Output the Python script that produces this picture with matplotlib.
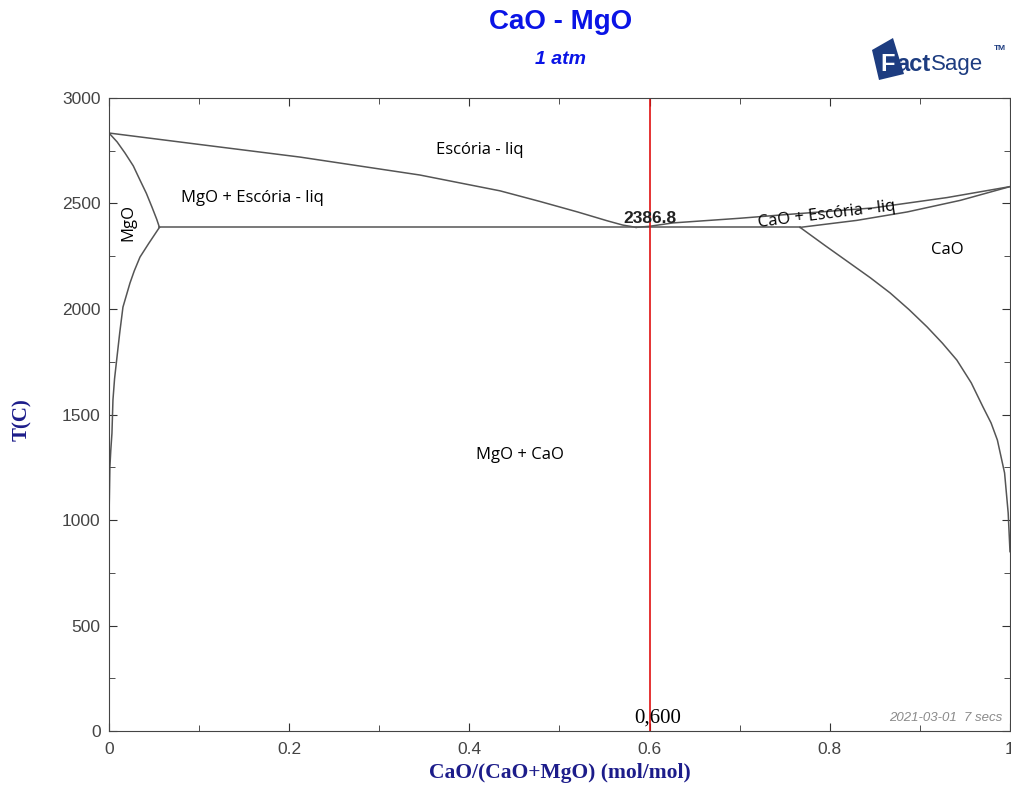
import matplotlib.pyplot as plt
import numpy as np
from matplotlib.ticker import MultipleLocator
from matplotlib.patches import Polygon

# phase boundary data
eut_T = 2386.8

liq_mgo_x = [0.0, 0.1, 0.212, 0.345, 0.434, 0.478, 0.52, 0.553, 0.57, 0.585]
liq_mgo_T = [2834, 2780, 2720, 2635, 2560, 2510, 2460, 2418, 2398, eut_T]

sol_mgo_x = [0.0, 0.009, 0.0178, 0.027, 0.0344, 0.0415, 0.0477, 0.053, 0.056]
sol_mgo_T = [2834, 2792, 2739, 2678, 2611, 2548, 2483, 2425, eut_T]

solv_mgo_x = [0.056, 0.044, 0.0344, 0.028, 0.0233, 0.0155, 0.012, 0.0089, 0.0062, 0.0044,
              0.0033, 0.002, 0.001, 0.0]
solv_mgo_T = [eut_T, 2310, 2246, 2180, 2123, 2009, 1890, 1773, 1670, 1569,
              1412, 1330, 1251, 1000]

liq_cao_x = [0.585, 0.6, 0.626, 0.7, 0.75, 0.848, 0.93, 1.0]
liq_cao_T = [eut_T, 2392, 2408, 2430, 2447, 2479, 2528, 2580]

sol_cao_x = [0.767, 0.83, 0.886, 0.945, 1.0]
sol_cao_T = [eut_T, 2420, 2460, 2515, 2580]

solv_cao_x = [0.767, 0.795, 0.822, 0.845, 0.867, 0.888, 0.908, 0.925, 0.941, 0.957,
              0.970, 0.979, 0.986, 0.994, 0.998, 1.0]
solv_cao_T = [eut_T, 2300, 2218, 2148, 2076, 1997, 1915, 1838, 1758, 1650,
              1536, 1460, 1379, 1223, 1033, 850]

eut_line_x = [0.056, 0.767]
x_cut = 0.6

line_c = '#555555'
blue = '#0a14e6'
navy = '#1c1c8a'
body_font = ['Open Sans', 'DejaVu Sans']

fig = plt.figure(figsize=(10.11, 7.89), dpi=100)
ax = fig.add_axes([0.1078, 0.0735, 0.8912, 0.8023])

for xs, ts in [(liq_mgo_x, liq_mgo_T), (sol_mgo_x, sol_mgo_T), (solv_mgo_x, solv_mgo_T),
               (liq_cao_x, liq_cao_T), (sol_cao_x, sol_cao_T), (solv_cao_x, solv_cao_T)]:
    ax.plot(xs, ts, color=line_c, lw=1.1)
ax.plot(eut_line_x, [eut_T, eut_T], color=line_c, lw=1.1)

ax.axvline(x_cut, color='#e01010', lw=1.2)

ax.set_xlim(0, 1)
ax.set_ylim(0, 3000)
ax.xaxis.set_major_locator(MultipleLocator(0.2))
ax.xaxis.set_minor_locator(MultipleLocator(0.1))
ax.yaxis.set_major_locator(MultipleLocator(500))
ax.yaxis.set_minor_locator(MultipleLocator(250))
ax.set_xticks([0, 0.2, 0.4, 0.6, 0.8, 1.0], ['0', '0.2', '0.4', '0.6', '0.8', '1'])
ax.tick_params(which='both', direction='in', top=True, right=True,
               labelsize=12.5, labelcolor='#444444', color='#333333')
ax.tick_params(which='major', length=6)
ax.tick_params(which='minor', length=4)
ax.tick_params(axis='x', pad=8)
ax.tick_params(axis='y', pad=6)
for lab in ax.get_xticklabels() + ax.get_yticklabels():
    lab.set_family('Liberation Sans')
for s in ax.spines.values():
    s.set_color('#444444')

ax.set_xlabel('CaO/(CaO+MgO) (mol/mol)', family='Liberation Serif', fontweight='bold',
              fontsize=15.5, color=navy, labelpad=4)
fig.text(0.022, 0.468, 'T(C)', family='Liberation Serif', fontweight='bold',
         fontsize=15, color=navy, rotation=90, ha='center', va='center')

# region labels
ax.text(0.412, 2754, 'Escória - liq', fontsize=12, family=body_font, ha='center', va='center')
ax.text(0.159, 2526, 'MgO + Escória - liq', fontsize=12, family=body_font, ha='center', va='center')
ax.text(0.021, 2412, 'MgO', fontsize=12, family=body_font, ha='center', va='center', rotation=90)
ax.text(0.797, 2445, 'CaO + Escória - liq', fontsize=12, family=body_font, ha='center',
        va='center', rotation=7)
ax.text(0.93, 2280, 'CaO', fontsize=12, family=body_font, ha='center', va='center')
ax.text(0.456, 1308, 'MgO + CaO', fontsize=12, family=body_font, ha='center', va='center')
ax.text(0.6, 2431, '2386.8', fontsize=12.5, fontweight='bold', family='Liberation Sans',
        color='#222222', ha='center', va='center')
ax.text(0.609, 60, '0,600', fontsize=15, family='Liberation Serif', ha='center', va='center')
ax.text(0.992, 60, '2021-03-01  7 secs', fontsize=9.5, style='italic', family='Liberation Sans',
        color='#8a8a8a', ha='right', va='center')

# titles
fig.text(0.554, 0.972, 'CaO - MgO', fontsize=20, fontweight='bold', family='Liberation Sans',
         color=blue, ha='center', va='center')
fig.text(0.554, 0.924, '1 atm', fontsize=14, fontweight='bold', style='italic',
         family='Liberation Sans', color=blue, ha='center', va='center')

# FactSage logo (approximation)
logo_c = '#1d3c80'
logo_px = [(872, 50), (893, 38), (904, 74), (879, 80)]
fig.patches.append(Polygon([(px / 1011, 1 - py / 789) for px, py in logo_px], closed=True,
                           transform=fig.transFigure, facecolor=logo_c, edgecolor='none'))
fig.text(880 / 1011, 0.918, 'F', fontsize=17, fontweight='bold', family='Liberation Sans',
         color='white', ha='left', va='center')
fig.text(896 / 1011, 0.918, 'act', fontsize=17, fontweight='bold', family='Liberation Sans',
         color=logo_c, ha='left', va='center')
fig.text(931 / 1011, 0.918, 'Sage', fontsize=16, family='Liberation Sans',
         color=logo_c, ha='left', va='center')
fig.text(1006 / 1011, 0.938, 'TM', fontsize=6, fontweight='bold', family='Liberation Sans',
         color=logo_c, ha='right', va='center')

fig.savefig('out.png', dpi=100)
